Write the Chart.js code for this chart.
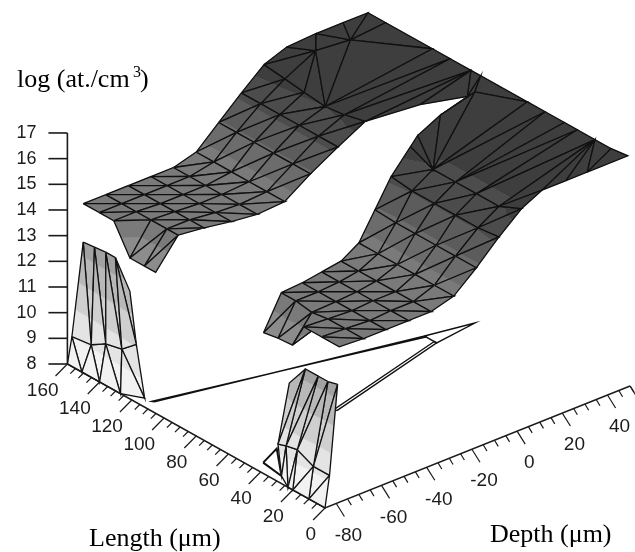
<!DOCTYPE html>
<html>
<head>
<meta charset="utf-8">
<style>
  html, body { margin: 0; padding: 0; background: #fff; }
  canvas { display: block; filter: blur(0.4px); }
</style>
<script src="https://cdn.jsdelivr.net/npm/chart.js@4/dist/chart.umd.min.js"></script>
</head>
<body>
<canvas id="myChart" width="635" height="552"></canvas>
<script>
// axis ticks
var log_ticks    = [8, 9, 10, 11, 12, 13, 14, 15, 16, 17];
var length_ticks = [0, 20, 40, 60, 80, 100, 120, 140, 160];
var depth_ticks  = [-80, -60, -40, -20, 0, 20, 40];

// mesh columns
var depths = [-78, -68, -58, -48, -38, -28, -18, -8, 2];

// back ridge: one row per line of the mesh, one value per depth
var back_length = [
  [160, 160, 160, 160, 160, 160, 160, 160, 160],
  [150, 150, 150, 150, 150, 149, 149, 148, 147],
  [141, 141, 140, 140, 140, 138, 138, 136, 135],
  [131, 132, 131, 130, 130, 127, 126, 124, 122],
  [122, 122, 122, 120, 119, 116, 114, 112, 110],
  [115, 115, 113, 110, 108, 105, 103, 100, 97]
];
var back_log = [
  [14, 14, 14, 14, 14, 14.25, 15.05, 15.85, 16.6],
  [14, 14, 14, 14, 14, 14.25, 15.05, 15.85, 16.5],
  [14, 14, 14, 14, 14, 14.25, 15.05, 15.85, 16.4],
  [12.9, 14, 14, 14, 14, 14.25, 15.05, 15.85, 16.3],
  [12.9, 14, 14, 14, 14, 14.25, 15.05, 15.85, 16.4],
  [12.9, 14, 14, 14, 14, 14.25, 15.05, 15.85, 16.6]
];
// back ridge cap, the big triangles up to the plateau edge
var back_cap_length = [160, 160, 160, 160, 149, 147, 149, 120, 109, 96, 87, 80, 90];
var back_cap_depth  = [12, 25, 37, 48, 17, 31, 48, 48, 48, 48, 19, 35, 48];
var back_cap_log    = [16.93, 17, 17, 17, 17, 17, 17, 17, 17, 17, 17, 17, 17];

// front ridge
var front_length = [
  [48, 51, 52, 54, 56, 59, 63, 67, 69],
  [39, 42, 42, 43, 45, 47, 50, 54, 55],
  [30, 32, 31, 32, 34, 35, 38, 40, 41],
  [23, 22, 21, 22, 22, 24, 25, 27, 28],
  [12, 11, 10, 11, 11, 12, 13, 13, 14],
  [1, 0, 0, 0, 0, 0, 0, 0, 0]
];
var front_log = [
  [12.9, 14, 14, 14, 14, 14.25, 15.05, 15.85, 16.6],
  [13, 14, 14, 14, 14, 14.25, 15, 15.75, 16.2],
  [13.05, 13.9, 14, 14, 14, 14.25, 15, 15.75, 16.2],
  [14, 14, 14, 14, 14, 14.25, 15, 15.75, 16.2],
  [14, 14, 14, 14, 14, 14.25, 15, 15.75, 16.2],
  [14, 14, 14, 14, 14, 14.25, 15, 15.85, 16.6]
];
var front_cap_length = [71, 75, 81, 80, 90, 61, 50, 38, 30, 19, 9, 0, 0, 0, 0];
var front_cap_depth  = [6.6, 19.5, 39, 35, 48, 48, 48, 48, 48, 48, 48, 49, 11, 21.6, 31];
var front_cap_log    = [16.8, 17, 17, 17, 17, 17, 17, 17, 17, 17, 17, 17, 17, 17, 17];

// low walls at the front of the mesh: top, middle and foot rows
var wall_depth = [-78, -83, -85];
var left_wall_length = [
  [160, 153, 146, 140, 131],
  [160, 148, 139, 129, 120],
  [160, 151, 140, 127, 112]
];
var left_wall_log = [
  [12.5, 12.55, 12.6, 12.6, 11.6],
  [9, 9.1, 9.45, 9.6, 10.1],
  [8, 8, 8, 8, 8.35]
];
var right_wall_length = [
  [2, 8, 14, 22, 32],
  [0, 10, 20, 27, 32],
  [0, 10, 20, 23, 27]
];
var right_wall_log = [
  [12.5, 12.4, 12.4, 12.4, 11.5],
  [9.2, 9.2, 9.5, 9.4, 9.3],
  [8, 8, 8, 8, 8.3]
];

// the flat slivers at the floor of the gap
var sliver_length = [113, 114, 85.6, 84.6, 78, 81, 60, 61.5, 79.5];
var sliver_depth  = [-80, -80.5, 20, 20, 20, 39, -37, -37, 20];
var sliver_log    = [8, 8, 8, 8, 8, 8, 8, 8, 8];
var sliver_faces  = [[0, 1, 3, 2], [2, 4, 5], [6, 7, 8, 4]];

// the small hook beside the right wall
var hook_length = [45.4, 37, 27];
var hook_depth  = [-80, -80, -85];
var hook_log    = [8, 8.84, 8.3];

// colour bands by height
var band_levels = [0, 9, 10, 11, 12, 12.8, 13.5, 14.5, 15.1, 15.7, 16.3, 18];
var band_colors = ['#f2f2f2', '#e4e4e4', '#cfcfcf', '#b8b8b8', '#a2a2a2', '#8c8c8c', '#7a7a7a', '#6c6c6c', '#5c5c5c', '#4c4c4c', '#3e3e3e'];

// where the three axes sit on the page
var origin   = {x: 325, y: 508};
var len_step = {x: -1.61, y: -0.9};
var dep_step = {x: 2.26, y: -0.904};
var log_step = -25.67;
var dep_zero = -85;
var dep_end  = 50;

function project(len, dep, lg){
  return {
    x: origin.x + len_step.x*len + dep_step.x*(dep-dep_zero),
    y: origin.y + len_step.y*len + dep_step.y*(dep-dep_zero) + log_step*(lg-8),
    z: lg
  };
}

var datasets = [];

function add_line(points, color, width){
  datasets.push({
    data: points, showLine: true, fill: false, pointRadius: 0,
    borderColor: color, borderWidth: width, clip: false
  });
}

function add_patch(points, color){
  datasets.push({
    data: points.concat([points[0]]), showLine: true, fill: 'shape', pointRadius: 0,
    backgroundColor: color, borderColor: color, borderWidth: 0.5, clip: false
  });
}

// cut a polygon to keep only the part on one side of a height
function clip_height(poly, level, keep_above){
  var out = [];
  for(var i=0; i<poly.length; i++){
    var a = poly[i], b = poly[(i+1)%poly.length];
    var a_in = keep_above ? a.z >= level : a.z <= level;
    var b_in = keep_above ? b.z >= level : b.z <= level;
    if(a_in) out.push(a);
    if(a_in != b_in){
      var t = (level-a.z)/(b.z-a.z);
      out.push({x: a.x+(b.x-a.x)*t, y: a.y+(b.y-a.y)*t, z: level});
    }
  }
  return out;
}

function add_face(a, b, c){
  for(var i=0; i<band_colors.length; i++){
    var poly = clip_height([a, b, c], band_levels[i], true);
    if(poly.length) poly = clip_height(poly, band_levels[i+1], false);
    if(poly.length > 2) add_patch(poly, band_colors[i]);
  }
  add_line([a, b, c, a], '#101010', 1.3);
}

function grid_vertex(lengths, logs, r, c){
  return project(lengths[r][c], depths[c], logs[r][c]);
}

function draw_sheet(lengths, logs){
  for(var r=0; r<lengths.length-1; r++){
    for(var c=0; c<depths.length-1; c++){
      var a = grid_vertex(lengths, logs, r, c);
      var b = grid_vertex(lengths, logs, r, c+1);
      var d = grid_vertex(lengths, logs, r+1, c+1);
      var e = grid_vertex(lengths, logs, r+1, c);
      add_face(a, b, d);
      add_face(a, d, e);
    }
  }
}

function draw_wall(lengths, logs){
  for(var r=lengths.length-2; r>=0; r--){
    for(var c=0; c<lengths[r].length-1; c++){
      var top_a = project(lengths[r][c], wall_depth[r], logs[r][c]);
      var top_b = project(lengths[r][c+1], wall_depth[r], logs[r][c+1]);
      var low_a = project(lengths[r+1][c], wall_depth[r+1], logs[r+1][c]);
      var low_b = project(lengths[r+1][c+1], wall_depth[r+1], logs[r+1][c+1]);
      add_face(top_a, top_b, low_b);
      add_face(top_a, low_b, low_a);
    }
  }
}

// slivers on the floor, no fill
sliver_faces.forEach(function(f){
  var p = f.map(function(i){ return project(sliver_length[i], sliver_depth[i], sliver_log[i]); });
  add_line(p.concat([p[0]]), '#101010', 1.4);
});
var hook = hook_length.map(function(v, i){ return project(v, hook_depth[i], hook_log[i]); });
add_line(hook.concat([hook[0]]), '#101010', 2);

// back ridge
draw_sheet(back_length, back_log);
function back_cap(i){
  // 0..12 are cap vertices, 13.. the last grid column rows (row = i-13)
  if(i < 13) return project(back_cap_length[i], back_cap_depth[i], back_cap_log[i]);
  return grid_vertex(back_length, back_log, i-13, depths.length-1);
}
var back_faces = [
  [13, 0, 4], [0, 1, 4], [1, 5, 4], [1, 2, 5], [2, 3, 5], [3, 6, 5],
  [13, 14, 4], [14, 15, 4], [15, 16, 4], [4, 16, 5],
  [5, 6, 7], [5, 7, 16], [16, 7, 8], [16, 8, 17], [17, 8, 9], [17, 9, 18],
  [18, 10, 9], [10, 11, 9], [11, 12, 9]
];
back_faces.forEach(function(f){
  add_face(back_cap(f[0]), back_cap(f[1]), back_cap(f[2]));
});

// front ridge
draw_sheet(front_length, front_log);
function front_cap(i){
  // 0..14 are cap vertices, 15.. the last grid column rows (row = i-15)
  if(i < 15) return project(front_cap_length[i], front_cap_depth[i], front_cap_log[i]);
  return grid_vertex(front_length, front_log, i-15, depths.length-1);
}
var front_faces = [
  [15, 0, 16], [0, 1, 16], [1, 2, 16], [1, 3, 2], [2, 3, 4], [2, 4, 5],
  [16, 2, 5], [16, 5, 6], [16, 6, 17], [17, 6, 7], [17, 7, 8], [17, 8, 18],
  [18, 8, 9], [18, 9, 19], [19, 9, 12], [19, 12, 20], [12, 9, 13], [13, 9, 14],
  [14, 9, 10], [14, 10, 11]
];
front_faces.forEach(function(f){
  add_face(front_cap(f[0]), front_cap(f[1]), front_cap(f[2]));
});

// low walls
draw_wall(left_wall_length, left_wall_log);
draw_wall(right_wall_length, right_wall_log);

// vertical axis
var axis_top = project(160, dep_zero, 17);
var axis_low = project(160, dep_zero, 8);
add_line([axis_top, axis_low], '#1a1a1a', 1.6);
log_ticks.forEach(function(v){
  var p = project(160, dep_zero, v);
  add_line([{x: p.x-19, y: p.y}, p], '#1a1a1a', 1.6);
});

// floor axes, a tick every 5 um and a long one every 20
add_line([project(160, dep_zero, 8), project(0, dep_zero, 8), project(0, dep_end, 8)], '#1a1a1a', 1.5);
for(var len=0; len<=160; len+=5){
  var major = len%20 == 0;
  add_line([project(len, dep_zero, 8), project(len-(major?4.7:2), dep_zero-(major?8.6:3.7), 8)], '#1a1a1a', 1.2);
}
for(var dep=-80; dep<=dep_end; dep+=5){
  var major = dep%20 == 0;
  add_line([project(0, dep, 8), project(major?-10.5:-5, dep-(major?3.9:1.9), 8)], '#1a1a1a', 1.2);
}
add_line([project(0, dep_end, 8), project(-10.5, dep_end-3.9, 8)], '#1a1a1a', 1.2);

// chart draws the first dataset on top
datasets.reverse();

// axis text
var axis_text = {
  id: 'axis_text',
  afterDraw: function(chart){
    var ctx = chart.ctx;
    var xs = chart.scales.x, ys = chart.scales.y;
    function px(x){ return xs.getPixelForValue(x); }
    function py(y){ return ys.getPixelForValue(y); }
    ctx.save();
    ctx.fillStyle = '#1c1c1c';
    ctx.font = '18px "Liberation Sans"';
    ctx.textBaseline = 'middle';

    ctx.textAlign = 'right';
    log_ticks.forEach(function(v){
      var p = project(160, dep_zero, v);
      ctx.fillText(String(v), px(p.x-31), py(p.y));
    });
    ctx.font = '19px "Liberation Sans"';
    length_ticks.forEach(function(v){
      var p = project(v-4.7, dep_zero-8.6, 8);
      ctx.fillText(String(v), px(p.x+3), py(p.y+15));
    });
    ctx.textAlign = 'center';
    depth_ticks.forEach(function(v){
      var p = project(-10.5, v-3.9, 8);
      ctx.fillText(String(v), px(p.x+4), py(p.y+19));
    });

    ctx.textAlign = 'left';
    ctx.textBaseline = 'alphabetic';
    ctx.fillStyle = '#000';
    ctx.font = '26px "Liberation Serif"';
    ctx.fillText('log (at./cm', px(17), py(87));
    ctx.fillText(')', px(140), py(87));
    ctx.fillText('Length (\u03bcm)', px(89), py(546));
    ctx.fillText('Depth (\u03bcm)', px(490), py(542));
    ctx.font = '16px "Liberation Serif"';
    ctx.fillText('3', px(133), py(77));
    ctx.restore();
  }
};

var ctx = document.getElementById('myChart');
window.chart = new Chart(ctx, {
  type: 'scatter',
  data: { datasets: datasets },
  options: {
    responsive: false,
    animation: false,
    events: [],
    layout: { padding: 0 },
    plugins: { legend: {display: false}, tooltip: {enabled: false}, title: {display: false} },
    scales: {
      x: { type: 'linear', min: 0, max: 635, display: false },
      y: { type: 'linear', min: 0, max: 552, reverse: true, display: false }
    }
  },
  plugins: [axis_text]
});
</script>
</body>
</html>
